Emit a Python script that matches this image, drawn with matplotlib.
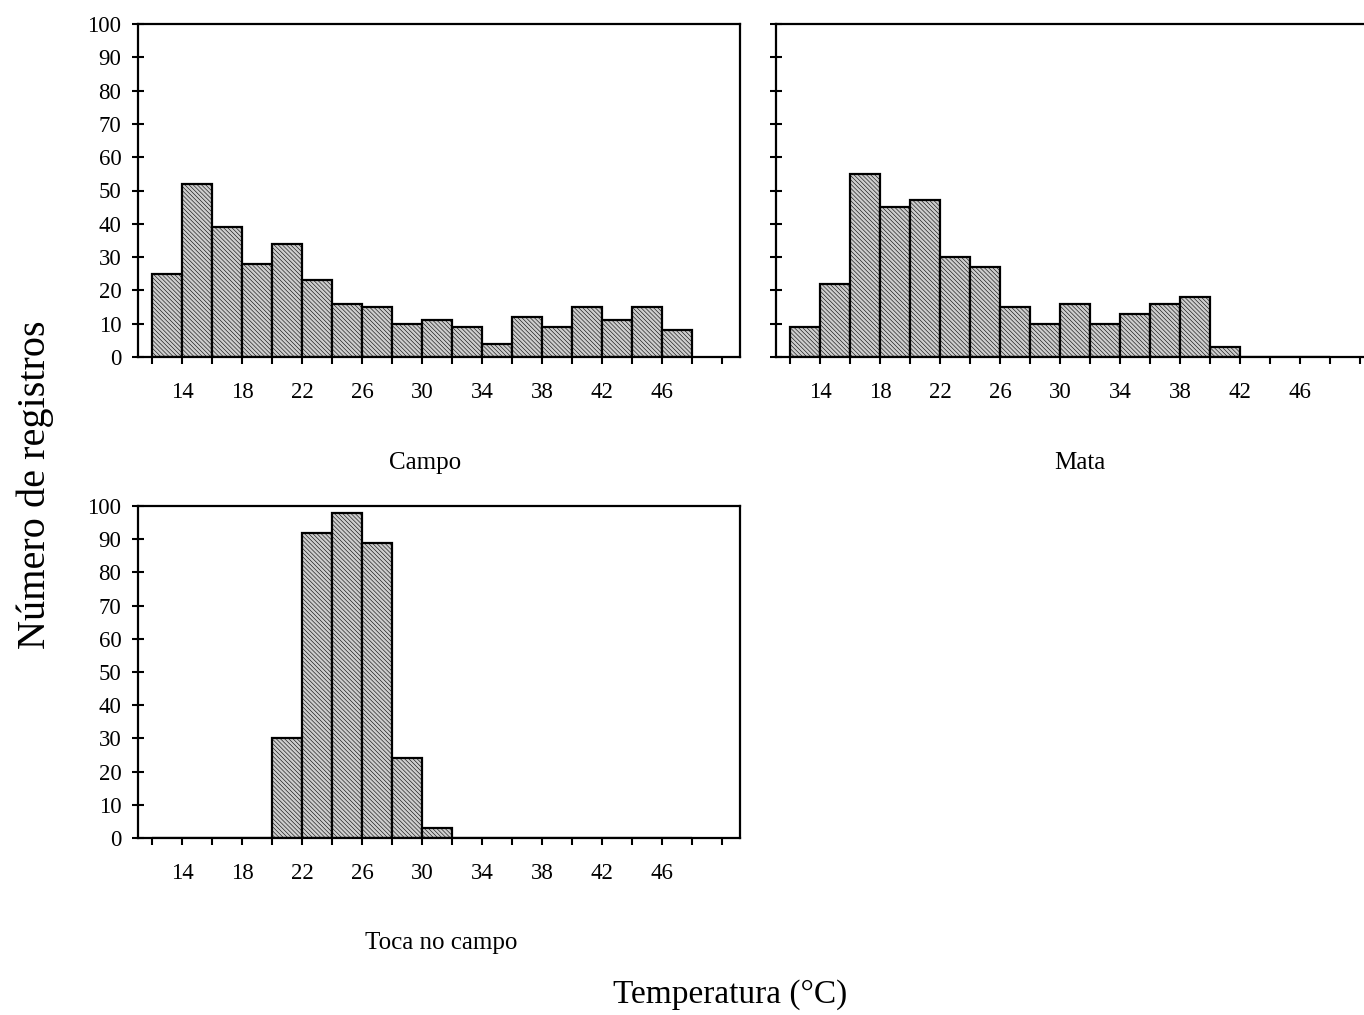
import matplotlib
matplotlib.use("Agg")
import matplotlib.pyplot as plt
import numpy as np

plt.rcParams['font.family'] = ['Liberation Serif', 'DejaVu Serif']
plt.rcParams['hatch.color'] = '#b2b2b2'
plt.rcParams['hatch.linewidth'] = 0.4

bin_left = [12, 14, 16, 18, 20, 22, 24, 26, 28, 30, 32, 34, 36, 38, 40, 42, 44, 46]
campo = [25, 52, 39, 28, 34, 23, 16, 15, 10, 11, 9, 4, 12, 9, 15, 11, 15, 8]
mata = [9, 22, 55, 45, 47, 30, 27, 15, 10, 16, 10, 13, 16, 18, 3, 0, 0, 0]
toca = [0, 0, 0, 0, 30, 92, 98, 89, 24, 3, 0, 0, 0, 0, 0, 0, 0, 0]
bin_width = 2
xtick_major = [14, 18, 22, 26, 30, 34, 38, 42, 46]
xtick_minor = list(range(12, 52, 2))
yticks = list(range(0, 101, 10))
panel_names = ["Campo", "Mata", "Toca no campo"]

W, H = 1364, 1015
fig = plt.figure(figsize=(W / 100, H / 100), dpi=100)

def frac(x0, y_top, x1, y_bot):
    return [x0 / W, 1 - y_bot / H, (x1 - x0) / W, (y_bot - y_top) / H]

axes = [
    fig.add_axes(frac(138, 24, 740, 357)),
    fig.add_axes(frac(776, 24, 1378, 357)),
    fig.add_axes(frac(138, 506, 740, 838)),
]
data = [campo, mata, toca]

for i, (ax, vals) in enumerate(zip(axes, data)):
    ax.bar(bin_left, vals, width=bin_width, align='edge', facecolor='#cdcdcd',
           edgecolor='black', linewidth=1.6, hatch='\\\\\\\\\\\\\\\\', zorder=2)
    ax.set_xlim(11.07, 51.2)
    ax.set_ylim(0, 100)
    ax.set_xticks(xtick_major)
    ax.set_xticks(xtick_minor, minor=True)
    ax.set_yticks(yticks)
    for s in ax.spines.values():
        s.set_linewidth(1.6)
    ax.tick_params(axis='x', which='both', direction='out', length=5, width=1.5,
                   labelsize=16.5, pad=13)
    ax.tick_params(axis='y', direction='inout', length=8, width=1.5,
                   labelsize=16.5, pad=8)
    if i == 1:
        ax.set_yticklabels([])

fig.text(425 / W, 1 - 463 / H, panel_names[0], ha='center', va='center', fontsize=18)
fig.text(1080 / W, 1 - 463 / H, panel_names[1], ha='center', va='center', fontsize=18)
fig.text(441 / W, 1 - 943 / H, panel_names[2], ha='center', va='center', fontsize=18)
fig.text(35 / W, 1 - 485 / H, "Número de registros", rotation=90, ha='center',
         va='center', fontsize=29)
fig.text(730 / W, 1 - 995 / H, "Temperatura (°C)", ha='center', va='center', fontsize=24)

fig.savefig("out.png", dpi=100)
